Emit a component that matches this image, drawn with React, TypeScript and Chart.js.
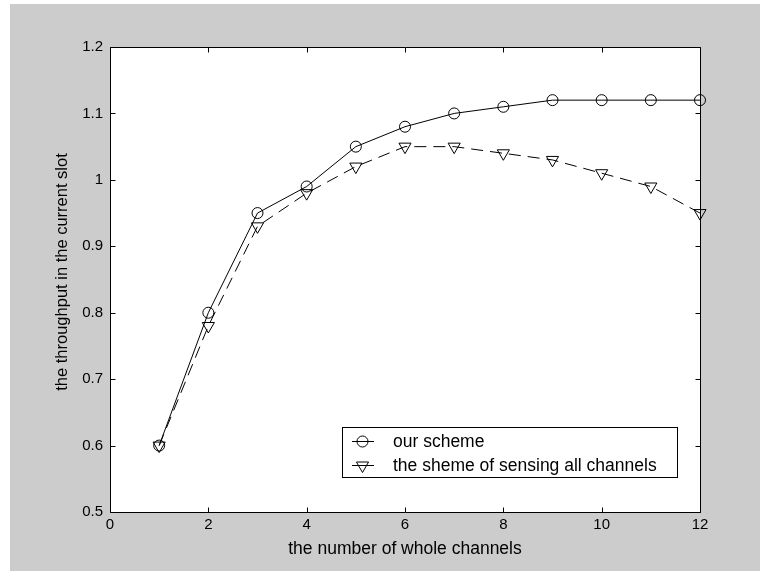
import React, { useEffect, useRef } from "react";
import { Chart, registerables } from "chart.js";

Chart.register(...registerables);

const channels = [1, 2, 3, 4, 5, 6, 7, 8, 9, 10, 11, 12];
const ourScheme = [0.6, 0.8, 0.95, 0.99, 1.05, 1.08, 1.1, 1.11, 1.12, 1.12, 1.12, 1.12];
const sensingAll = [0.6, 0.78, 0.93, 0.98, 1.02, 1.05, 1.05, 1.04, 1.03, 1.01, 0.99, 0.95];
const xTicks = [0, 2, 4, 6, 8, 10, 12];
const yTicks = [0.5, 0.6, 0.7, 0.8, 0.9, 1, 1.1, 1.2];
const seriesLabels = ["our scheme", "the sheme of sensing all channels"];
const xTitle = "the number of whole channels";
const yTitle = "the throughput in the current slot";

const FONT = "'Liberation Sans', Arial, Helvetica, sans-serif";
const FIG_BG = "#cccccc";

const matlabFrame = {
  id: "matlabFrame",
  beforeDraw(chart: any) {
    const { ctx, width, height, chartArea } = chart;
    ctx.save();
    ctx.fillStyle = "#ffffff";
    ctx.fillRect(0, 0, width, height);
    ctx.fillStyle = FIG_BG;
    ctx.fillRect(10, 4, width - 10, height - 4);
    ctx.fillStyle = "#ffffff";
    ctx.fillRect(chartArea.left, chartArea.top, chartArea.right - chartArea.left, chartArea.bottom - chartArea.top);
    ctx.restore();
  },
  afterDraw(chart: any) {
    const { ctx, chartArea } = chart;
    const xs = chart.scales.x;
    const ys = chart.scales.y;
    const L = Math.round(chartArea.left) + 0.5;
    const R = Math.round(chartArea.right) + 0.5;
    const T = Math.round(chartArea.top) + 0.5;
    const B = Math.round(chartArea.bottom) + 0.5;
    ctx.save();
    ctx.strokeStyle = "#000000";
    ctx.lineWidth = 1;
    ctx.beginPath();
    ctx.rect(L, T, R - L, B - T);
    ctx.stroke();
    const tl = 5;
    ctx.beginPath();
    xTicks.forEach((v) => {
      const px = Math.round(xs.getPixelForValue(v)) + 0.5;
      ctx.moveTo(px, B);
      ctx.lineTo(px, B - tl);
      ctx.moveTo(px, T);
      ctx.lineTo(px, T + tl);
    });
    yTicks.forEach((v) => {
      const py = Math.round(ys.getPixelForValue(v)) + 0.5;
      ctx.moveTo(L, py);
      ctx.lineTo(L + tl, py);
      ctx.moveTo(R, py);
      ctx.lineTo(R - tl, py);
    });
    ctx.stroke();

    // y-axis title (MATLAB places it slightly above chart-area centre)
    ctx.save();
    ctx.translate(62, 272);
    ctx.rotate(-Math.PI / 2);
    ctx.font = "16.5px " + FONT;
    ctx.textAlign = "center";
    ctx.textBaseline = "middle";
    ctx.fillStyle = "#000000";
    ctx.fillText(yTitle, 0, 0);
    ctx.restore();

    // legend box
    const bx = 342.5, by = 427.5, bw = 335, bh = 50;
    ctx.fillStyle = "#ffffff";
    ctx.fillRect(bx, by, bw, bh);
    ctx.strokeStyle = "#000000";
    ctx.strokeRect(bx, by, bw, bh);
    const rows = [441.5, 465.5];
    ctx.font = "17.5px " + FONT;
    ctx.textBaseline = "middle";
    ctx.textAlign = "left";
    rows.forEach((ry, i) => {
      ctx.beginPath();
      ctx.moveTo(352, ry);
      ctx.lineTo(374, ry);
      ctx.stroke();
      const cx = 362.5;
      ctx.beginPath();
      if (i === 0) {
        ctx.arc(cx, ry, 5.5, 0, Math.PI * 2);
      } else {
        const r = 7;
        for (let k = 0; k < 3; k++) {
          const a = Math.PI + (k * 2 * Math.PI) / 3;
          const px = cx + Math.sin(a) * r;
          const py = ry - Math.cos(a) * r;
          if (k === 0) ctx.moveTo(px, py);
          else ctx.lineTo(px, py);
        }
        ctx.closePath();
      }
      ctx.stroke();
      ctx.fillStyle = "#000000";
      ctx.fillText(seriesLabels[i], 393, ry + 0.5);
    });
    ctx.restore();
  },
};

export default function App() {
  const ref = useRef<HTMLCanvasElement | null>(null);
  useEffect(() => {
    if (!ref.current) return;
    const chart = new Chart(ref.current, {
      type: "line",
      data: {
        datasets: [
          {
            label: seriesLabels[0],
            data: channels.map((c, i) => ({ x: c, y: ourScheme[i] })),
            borderColor: "#000000",
            borderWidth: 1,
            pointStyle: "circle",
            pointRadius: 5.5,
            pointBorderWidth: 1,
            pointBorderColor: "#000000",
            pointBackgroundColor: "rgba(0,0,0,0)",
            tension: 0,
            fill: false,
            clip: false,
          },
          {
            label: seriesLabels[1],
            data: channels.map((c, i) => ({ x: c, y: sensingAll[i] })),
            borderColor: "#000000",
            borderWidth: 1,
            borderDash: [12, 7],
            pointStyle: "triangle",
            pointRotation: 180,
            pointRadius: 7,
            pointBorderWidth: 1,
            pointBorderColor: "#000000",
            pointBackgroundColor: "rgba(0,0,0,0)",
            tension: 0,
            fill: false,
            clip: false,
          },
        ],
      },
      options: {
        animation: false,
        responsive: false,
        devicePixelRatio: 1,
        layout: { padding: { left: 0, right: 60, top: 47, bottom: 0 } },
        plugins: { legend: { display: false }, tooltip: { enabled: false } },
        scales: {
          x: {
            type: "linear",
            min: 0,
            max: 12,
            grid: { display: false, drawTicks: false },
            border: { display: false },
            afterBuildTicks: (s: any) => {
              s.ticks = xTicks.map((v) => ({ value: v }));
            },
            afterFit: (s: any) => {
              s.height = 59;
            },
            ticks: {
              color: "#000000",
              padding: 4,
              maxRotation: 0,
              autoSkip: false,
              font: { family: FONT, size: 15 },
              callback: (v: any) => String(v),
            },
            title: {
              display: true,
              text: xTitle,
              color: "#000000",
              font: { family: FONT, size: 17.5 },
              padding: { top: 0, bottom: 11.5 },
            },
          },
          y: {
            type: "linear",
            min: 0.5,
            max: 1.2,
            grid: { display: false, drawTicks: false },
            border: { display: false },
            afterBuildTicks: (s: any) => {
              s.ticks = yTicks.map((v) => ({ value: v }));
            },
            afterFit: (s: any) => {
              s.width = 110;
            },
            ticks: {
              color: "#000000",
              padding: 7,
              autoSkip: false,
              font: { family: FONT, size: 15 },
              callback: (v: any) => String(Math.round(v * 10) / 10),
            },
            title: { display: false },
          },
        },
      },
      plugins: [matlabFrame],
    });
    return () => chart.destroy();
  }, []);
  return (
    <canvas
      ref={ref}
      width={760}
      height={571}
      style={{ position: "absolute", left: 0, top: 0, display: "block", width: 760, height: 571 }}
    />
  );
}
